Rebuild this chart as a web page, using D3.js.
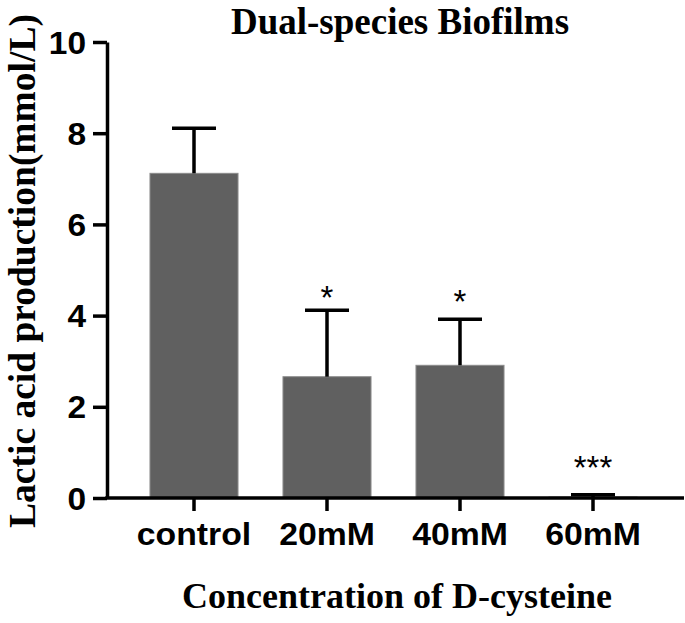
<!DOCTYPE html>
<html>
<head>
<meta charset="utf-8">
<script src="https://cdn.jsdelivr.net/npm/d3@7"></script>
<style>
  body { margin: 0; background: #fff; }
  svg { display: block; }
  .tick text { font-family: "Liberation Sans", Arial, sans-serif; font-weight: bold; }
</style>
</head>
<body>
<div id="chart"></div>
<script>
// data
var categories = ['control', '20mM', '40mM', '60mM'];
var means = [7.12, 2.66, 2.91, 0.02];
var sds = [0.99, 1.46, 1.01, 0.05];
var sigMarks = ['', '*', '*', '***'];
var sigLevel = [null, 4.56, 4.47, 0.83];
var yTicks = [0, 2, 4, 6, 8, 10];

var width = 685, height = 623;
var svg = d3.select('#chart').append('svg')
  .attr('width', width)
  .attr('height', height);

var y = d3.scaleLinear().domain([0, 10]).range([498, 42]);
var x = d3.scaleBand().domain(categories)
  .range([127.5, 659.5])
  .paddingInner(0.338)
  .paddingOuter(0.169);

// bars
svg.selectAll('.bar')
  .data(categories)
  .enter().append('rect')
  .attr('class', 'bar')
  .attr('x', function(d) { return x(d); })
  .attr('width', x.bandwidth())
  .attr('y', function(d, i) { return y(means[i]); })
  .attr('height', function(d, i) { return y(0) - y(means[i]); })
  .attr('fill', '#606060')
  .attr('stroke', '#8c8c8c')
  .attr('stroke-width', 1);

// error bars (upper only)
var capW = 44;
var err = svg.selectAll('.err')
  .data(categories)
  .enter().append('g')
  .attr('class', 'err')
  .attr('stroke', '#000')
  .attr('stroke-width', 3.5);
err.append('line')
  .attr('x1', function(d) { return x(d) + x.bandwidth() / 2; })
  .attr('x2', function(d) { return x(d) + x.bandwidth() / 2; })
  .attr('y1', function(d, i) { return y(means[i]); })
  .attr('y2', function(d, i) { return y(means[i] + sds[i]); });
err.append('line')
  .attr('x1', function(d) { return x(d) + x.bandwidth() / 2 - capW / 2; })
  .attr('x2', function(d) { return x(d) + x.bandwidth() / 2 + capW / 2; })
  .attr('y1', function(d, i) { return y(means[i] + sds[i]); })
  .attr('y2', function(d, i) { return y(means[i] + sds[i]); });

// significance stars
svg.selectAll('.sig')
  .data(categories)
  .enter().append('text')
  .attr('class', 'sig')
  .attr('x', function(d) { return x(d) + x.bandwidth() / 2; })
  .attr('y', function(d, i) { return sigLevel[i] === null ? 0 : y(sigLevel[i]) + 19; })
  .attr('text-anchor', 'middle')
  .style('font-family', '"Liberation Sans", Arial, sans-serif')
  .style('font-size', '33px')
  .text(function(d, i) { return sigMarks[i]; });

// y axis
var yAxis = svg.append('g')
  .attr('transform', 'translate(107,0)')
  .call(d3.axisLeft(y).tickValues(yTicks).tickSize(14).tickPadding(7).tickSizeOuter(0));
yAxis.selectAll('path, line').attr('stroke', '#000').attr('stroke-width', 3.5);
yAxis.selectAll('text')
  .style('font-size', '31px')
  .attr('dy', '0.36em')
  .attr('x', -21 / 1.08)
  .attr('transform', 'scale(1.08,1)');

// x axis
var xAxis = svg.append('g')
  .attr('transform', 'translate(0,498)')
  .call(d3.axisBottom(x).tickSize(13).tickPadding(12).tickSizeOuter(0));
xAxis.select('.domain').remove();
xAxis.append('line')
  .attr('x1', 105.25).attr('x2', 684)
  .attr('y1', 0).attr('y2', 0);
xAxis.selectAll('line').attr('stroke', '#000').attr('stroke-width', 3.5);
xAxis.selectAll('text')
  .style('font-size', '31px')
  .attr('dy', '0.71em')
  .attr('transform', 'scale(1.09,1)');

// titles
svg.append('text')
  .attr('x', 400).attr('y', 34)
  .attr('text-anchor', 'middle')
  .style('font-family', '"Liberation Serif", "Times New Roman", serif')
  .style('font-weight', 'bold')
  .style('font-size', '37px')
  .text('Dual-species Biofilms');

svg.append('text')
  .attr('x', 397).attr('y', 608)
  .attr('text-anchor', 'middle')
  .style('font-family', '"Liberation Serif", "Times New Roman", serif')
  .style('font-weight', 'bold')
  .style('font-size', '36px')
  .text('Concentration of D-cysteine');

svg.append('text')
  .attr('transform', 'translate(35,271) rotate(-90)')
  .attr('text-anchor', 'middle')
  .style('font-family', '"Liberation Serif", "Times New Roman", serif')
  .style('font-weight', 'bold')
  .style('font-size', '37.5px')
  .text('Lactic acid production(mmol/L)');
</script>
</body>
</html>
